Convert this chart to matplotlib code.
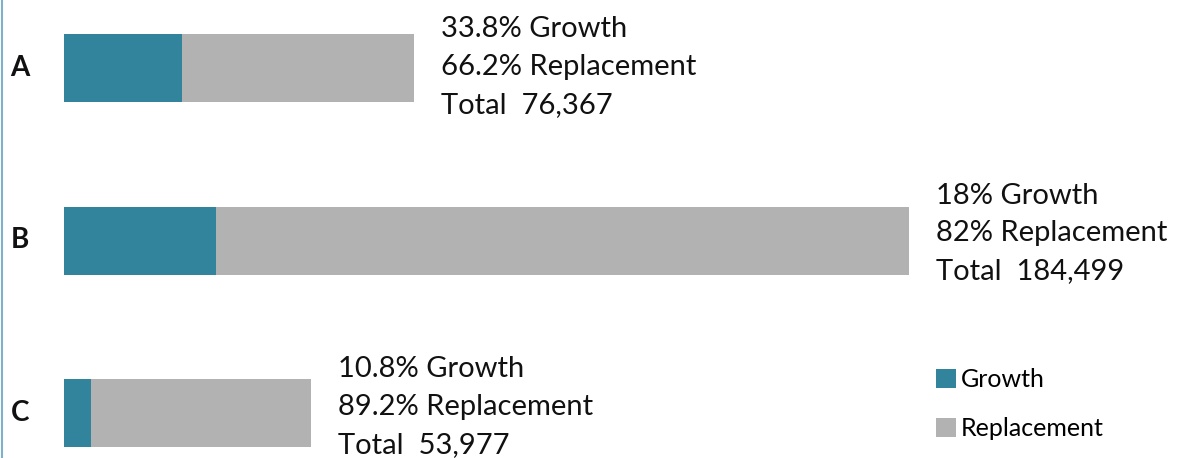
import matplotlib.pyplot as plt
from matplotlib.lines import Line2D

categories = ["A", "B", "C"]
totals = [76367, 184499, 53977]
growth_pct = [33.8, 18, 10.8]
replacement_pct = [66.2, 82, 89.2]
growth_txt = ["33.8%", "18%", "10.8%"]
replacement_txt = ["66.2%", "82%", "89.2%"]

growth = [t * g / 100 for t, g in zip(totals, growth_pct)]
replacement = [t * r / 100 for t, r in zip(totals, replacement_pct)]

teal = "#31849b"
grey = "#b2b2b2"
font = "Lato"

W, H = 1186, 458
fig = plt.figure(figsize=(W / 100, H / 100), dpi=100)
# axes spans the bar area: x=0 at pixel 64, longest bar ends at pixel 909
ax = fig.add_axes([64 / W, 0, 845 / W, 1])
ax.set_xlim(0, max(totals))
ax.set_ylim(2 + 45 / 172.5, -68 / 172.5)
ax.axis("off")

y = list(range(len(categories)))
bh = 68 / 172.5
ax.barh(y, growth, height=bh, color=teal, label="Growth")
ax.barh(y, replacement, left=growth, height=bh, color=grey, label="Replacement")

nudge = [6, 0, 1]  # small per-row vertical shift of the label block (px)
for i, cat in enumerate(categories):
    lines = [f"{growth_txt[i]} Growth",
             f"{replacement_txt[i]} Replacement",
             f"Total  {totals[i]:,}"]
    for line, dy in zip(lines, [-45, -7, 31]):
        ax.annotate(line, (totals[i], i), xytext=(27, -dy - nudge[i]),
                    textcoords="offset pixels", ha="left", va="center",
                    fontsize=21, family=font, color="#111111",
                    annotation_clip=False)
    ax.annotate(cat, (0, i), xytext=(-44, 0), textcoords="offset pixels",
                ha="center", va="center", fontsize=20, fontweight="bold",
                family=font, color="#111111", annotation_clip=False)

ax.legend(loc="upper left", bbox_to_anchor=(936 / W, 1 - 368 / H),
          bbox_transform=fig.transFigure, frameon=False,
          prop={"family": font, "size": 18}, handlelength=0.8, handleheight=0.8,
          handletextpad=0.2, labelspacing=1.05, borderpad=0, borderaxespad=0)

fig.add_artist(Line2D([1.5 / W, 1.5 / W], [0, 1], transform=fig.transFigure,
                      color="#7fb2c8", lw=1.5))

fig.savefig("out.png", dpi=100)
